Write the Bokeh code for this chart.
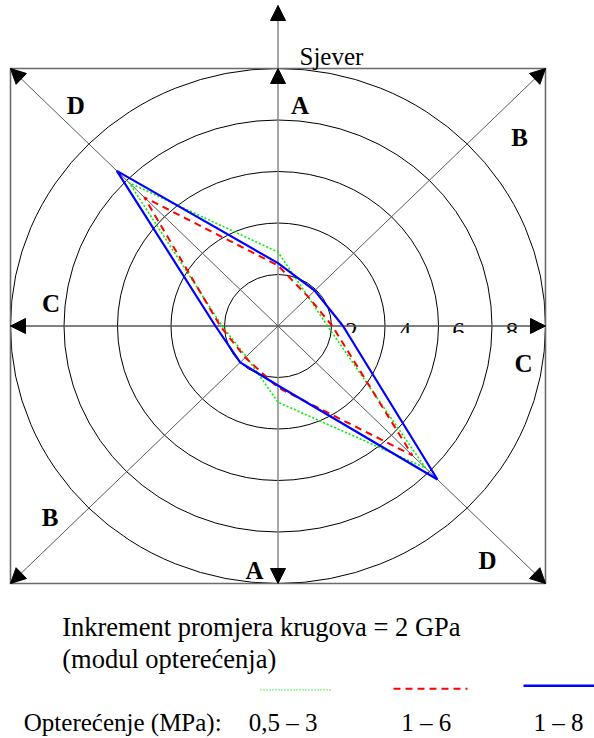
import numpy as np
from bokeh.plotting import figure
from bokeh.models import Arrow, NormalHead, Range1d
from bokeh.core.properties import value
from bokeh.embed import file_html
from bokeh.resources import INLINE

# ---------------- data ----------------
directions = ["I", "SI", "S", "SZ", "Z", "JZ", "J", "JI"]          # compass directions
direction_angles_deg = [0, 45, 90, 135, 180, 225, 270, 315]
modulus_load_05_3 = [1.85, 1.60, 2.87, 7.87, 2.09, 1.68, 2.96, 7.80]   # GPa, load 0,5 - 3 MPa
modulus_load_1_6 = [2.03, 1.60, 2.35, 7.07, 2.16, 1.73, 2.39, 7.10]    # GPa, load 1 - 6 MPa
modulus_load_1_8 = [2.43, 1.94, 2.44, 8.52, 2.34, 2.00, 2.31, 8.43]    # GPa, load 1 - 8 MPa
ring_values = [2, 4, 6, 8, 10]
tick_labels = ["2", "4", "6", "8"]
axis_letters = ["D", "A", "B", "C", "C", "B", "A", "D"]
series_labels = ["0,5 – 3", "1 – 6", "1 – 8"]
series_colors = ["#00ee00", "#ff0000", "#0000ff"]

# ---------------- layout ----------------
W, H = 594, 738
CX, CY = 277.5, 325.5          # centre of the rose in figure pixels
SX, SY = 26.75, 25.75          # pixels per GPa (horizontal / vertical)
TB = -7                        # text baseline correction (px)

def ux(X):   # pixel -> data x
    return (X - CX) / SX

def uy(Y):   # pixel -> data y
    return (CY - Y) / SY

def ut(Y):   # text baseline pixel -> data y
    return (CY - (Y + TB)) / SY

p = figure(width=W, height=H, output_backend="svg", toolbar_location=None,
           x_range=Range1d(-CX / SX, (W - CX) / SX),
           y_range=Range1d(-(H - CY) / SY, CY / SY),
           x_axis_location=None, y_axis_location=None, min_border=0)
p.grid.visible = False
p.outline_line_color = None
p.background_fill_color = "white"
p.border_fill_color = "white"

serif = value("Liberation Serif")
R = ring_values[-1]

# value labels on the east axis (partly hidden, as in the original)
p.text(x=ring_values[:-1], y=[0] * len(tick_labels), text=tick_labels,
       x_offset=20, y_offset=12.5 + TB, text_align="center", text_baseline="alphabetic",
       text_font=serif, text_font_size="25px", text_color="black")
p.quad(left=[ux(336)], right=[ux(526)], top=[uy(332.5)], bottom=[uy(342)],
       fill_color="white", line_color=None)

# rings
p.ellipse(x=[0] * len(ring_values), y=[0] * len(ring_values),
          width=[2 * r for r in ring_values], height=[2 * r for r in ring_values],
          fill_color=None, line_color="black", line_width=1)

# frame
p.quad(left=[-R], right=[R], top=[R], bottom=[-R], fill_color=None,
       line_color="#6a6a6a", line_width=1.6)

# axes lines
top_tip = uy(5)
p.segment(x0=[-R, R], y0=[-R, -R], x1=[R, -R], y1=[R, R], line_color="#5a5a5a", line_width=1)
p.segment(x0=[0], y0=[-R], x1=[0], y1=[top_tip], line_color="#8a8a8a", line_width=1.5)
p.segment(x0=[-R], y0=[0], x1=[R], y1=[0], line_color="#555555", line_width=1.5)

# polygons
theta = np.deg2rad(direction_angles_deg)
for vals, col, dash, lw in [(modulus_load_05_3, series_colors[0], "2 2", 1.6),
                            (modulus_load_1_6, series_colors[1], "7 5", 2),
                            (modulus_load_1_8, series_colors[2], "solid", 2.2)]:
    r = np.array(vals)
    xs = list(r * np.cos(theta)) + [r[0] * np.cos(theta[0])]
    ys = list(r * np.sin(theta)) + [r[0] * np.sin(theta[0])]
    p.line(xs, ys, line_color=col, line_width=lw, line_dash=dash)

# arrow heads
def head(x0, y0, x1, y1):
    p.add_layout(Arrow(x_start=x0, y_start=y0, x_end=x1, y_end=y1, line_alpha=0,
                       end=NormalHead(size=15, fill_color="black", line_color="black", line_width=1)))

head(0, 0, 0, top_tip)
head(0, 0, 0, R)
head(0, 0, 0, -R)
head(0, 0, -R, 0)
head(0, 0, R, 0)
head(0, 0, R, R)
head(0, 0, -R, R)
head(0, 0, -R, -R)
head(0, 0, R, -R)

# direction letters
letter_px = [(75.3, 111.7), (299.5, 111.7), (519, 144), (50.5, 310),
             (523, 370), (49.5, 524), (254, 576.7), (487, 566.7)]
p.text(x=[ux(a) for a, b in letter_px], y=[ut(b) for a, b in letter_px], text=axis_letters,
       text_align="center", text_baseline="alphabetic", text_font=serif,
       text_font_size="25px", text_font_style="bold", text_color="black")

# north label
p.text(x=[ux(299)], y=[ut(63.3)], text=["Sjever"], text_align="left",
       text_baseline="alphabetic", text_font=serif, text_font_size="25px", text_color="black")

# legend / notes
p.text(x=[ux(61.7), ux(61.7)], y=[ut(633.3), ut(665.7)],
       text=["Inkrement promjera krugova = 2 GPa", "(modul opterećenja)"],
       text_align="left", text_baseline="alphabetic", text_font=serif,
       text_font_size="26.5px", text_color="black")
p.text(x=[ux(23.3), ux(248.3), ux(400.7), ux(533)], y=[ut(728.5)] * 4,
       text=["Opterećenje (MPa):"] + series_labels,
       text_align="left", text_baseline="alphabetic", text_font=serif,
       text_font_size="25px", text_color="black")

# legend samples
p.line([ux(260), ux(331)], [uy(689.3)] * 2, line_color=series_colors[0], line_width=1.2, line_dash="1 2")
p.line([ux(393), ux(467)], [uy(688.3)] * 2, line_color=series_colors[1], line_width=2, line_dash="7 5")
p.line([ux(523), ux(594)], [uy(685.3)] * 2, line_color=series_colors[2], line_width=2.5)

open("out.html", "w").write(file_html(p, INLINE))
